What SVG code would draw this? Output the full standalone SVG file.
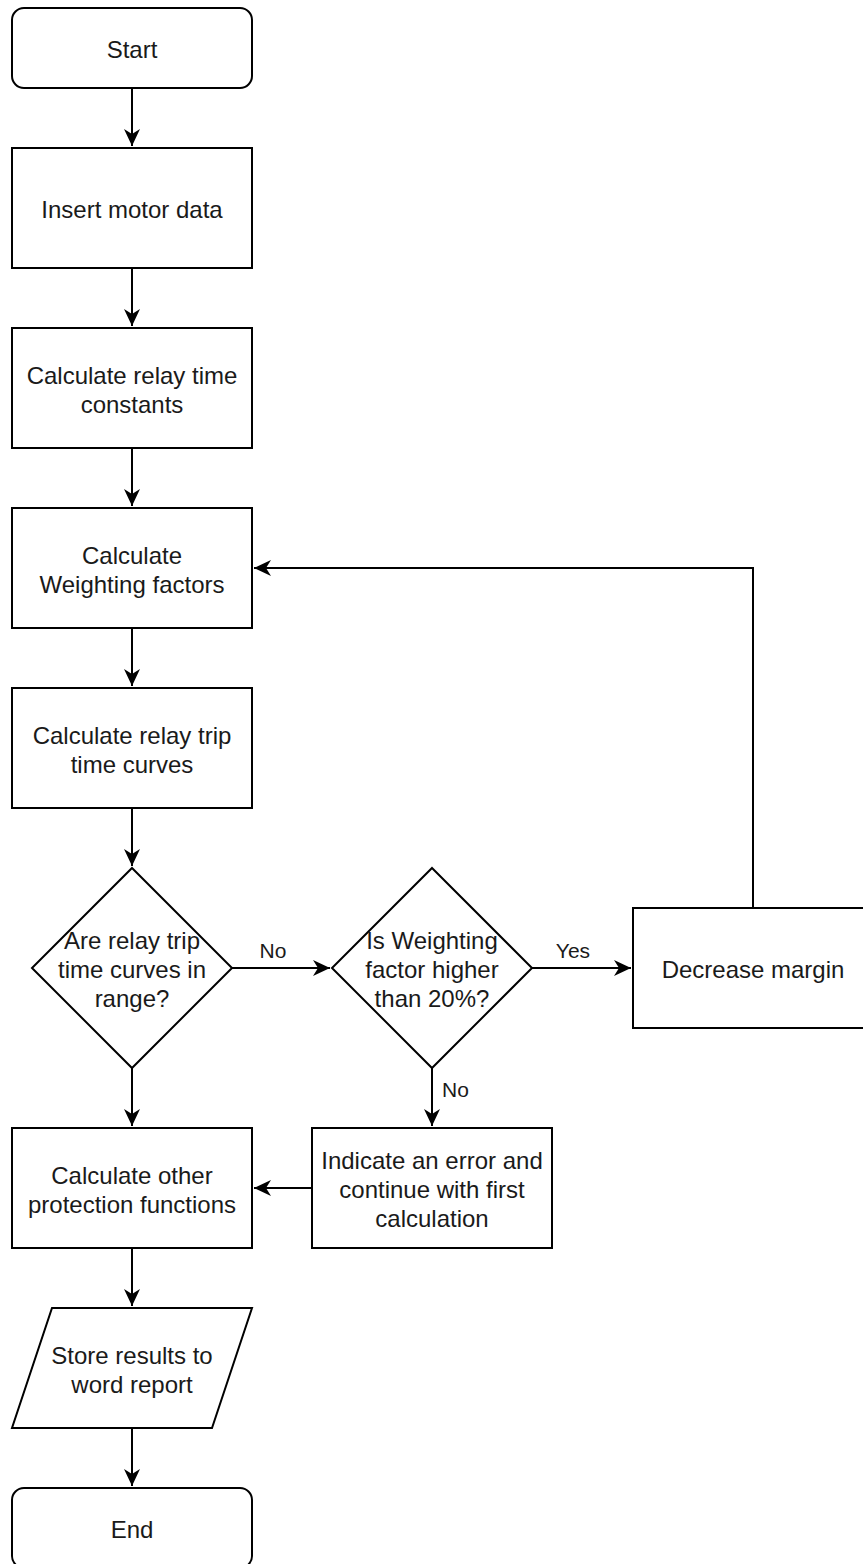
<svg xmlns="http://www.w3.org/2000/svg" width="863" height="1564" viewBox="0 0 863 1564">
<defs>
<style>
.n{fill:#fff;stroke:#000;stroke-width:2}
.t{font-family:"Liberation Sans",Arial,sans-serif;font-size:24px;fill:#1a1a1a;text-anchor:middle}
.l{font-family:"Liberation Sans",Arial,sans-serif;font-size:21px;fill:#1a1a1a}
.c{fill:none;stroke:#000;stroke-width:2}
</style>
<marker id="ah" markerUnits="userSpaceOnUse" markerWidth="20" markerHeight="20" viewBox="-18 -9 20 18" refX="0" refY="0" orient="auto">
<path d="M0,0 L-17,-8 L-12,0 L-17,8 Z" fill="#000"/>
</marker>
</defs>
<rect width="863" height="1564" fill="#fff"/>
<g id="connectors">
<path class="c" d="M132,88 V146" marker-end="url(#ah)"/>
<path class="c" d="M132,268 V326" marker-end="url(#ah)"/>
<path class="c" d="M132,448 V506" marker-end="url(#ah)"/>
<path class="c" d="M132,628 V686" marker-end="url(#ah)"/>
<path class="c" d="M132,808 V866" marker-end="url(#ah)"/>
<path class="c" d="M232,968 H330" marker-end="url(#ah)"/>
<path class="c" d="M532,968 H631" marker-end="url(#ah)"/>
<path class="c" d="M753,908 V568 H254" marker-end="url(#ah)"/>
<path class="c" d="M132,1068 V1126" marker-end="url(#ah)"/>
<path class="c" d="M432,1068 V1126" marker-end="url(#ah)"/>
<path class="c" d="M312,1188 H254" marker-end="url(#ah)"/>
<path class="c" d="M132,1248 V1306" marker-end="url(#ah)"/>
<path class="c" d="M132,1428 V1486" marker-end="url(#ah)"/>
<text class="l" x="273" y="958" text-anchor="middle">No</text>
<text class="l" x="573" y="958" text-anchor="middle">Yes</text>
<text class="l" x="442" y="1097">No</text>
</g>
<g id="start">
<rect class="n" x="12" y="8" width="240" height="80" rx="12"/>
<text class="t" x="132" y="57.5">Start</text>
</g>
<g id="insert">
<rect class="n" x="12" y="148" width="240" height="120"/>
<text class="t" x="132" y="218">Insert motor data</text>
</g>
<g id="constants">
<rect class="n" x="12" y="328" width="240" height="120"/>
<text class="t" x="132" y="384">Calculate relay time</text>
<text class="t" x="132" y="413">constants</text>
</g>
<g id="weighting">
<rect class="n" x="12" y="508" width="240" height="120"/>
<text class="t" x="132" y="564">Calculate</text>
<text class="t" x="132" y="593">Weighting factors</text>
</g>
<g id="tripcurves">
<rect class="n" x="12" y="688" width="240" height="120"/>
<text class="t" x="132" y="744">Calculate relay trip</text>
<text class="t" x="132" y="773">time curves</text>
</g>
<g id="inrange">
<polygon class="n" points="132,868 232,968 132,1068 32,968"/>
<text class="t" x="132" y="949">Are relay trip</text>
<text class="t" x="132" y="978">time curves in</text>
<text class="t" x="132" y="1007">range?</text>
</g>
<g id="higher">
<polygon class="n" points="432,868 532,968 432,1068 332,968"/>
<text class="t" x="432" y="949">Is Weighting</text>
<text class="t" x="432" y="978">factor higher</text>
<text class="t" x="432" y="1007">than 20%?</text>
</g>
<g id="decrease">
<rect class="n" x="633" y="908" width="240" height="120"/>
<text class="t" x="753" y="977.5">Decrease margin</text>
</g>
<g id="error">
<rect class="n" x="312" y="1128" width="240" height="120"/>
<text class="t" x="432" y="1169">Indicate an error and</text>
<text class="t" x="432" y="1198">continue with first</text>
<text class="t" x="432" y="1227">calculation</text>
</g>
<g id="other">
<rect class="n" x="12" y="1128" width="240" height="120"/>
<text class="t" x="132" y="1184">Calculate other</text>
<text class="t" x="132" y="1213">protection functions</text>
</g>
<g id="store">
<polygon class="n" points="52,1308 252,1308 212,1428 12,1428"/>
<text class="t" x="132" y="1364">Store results to</text>
<text class="t" x="132" y="1393">word report</text>
</g>
<g id="end">
<rect class="n" x="12" y="1488" width="240" height="80" rx="12"/>
<text class="t" x="132" y="1537.5">End</text>
</g>
</svg>
